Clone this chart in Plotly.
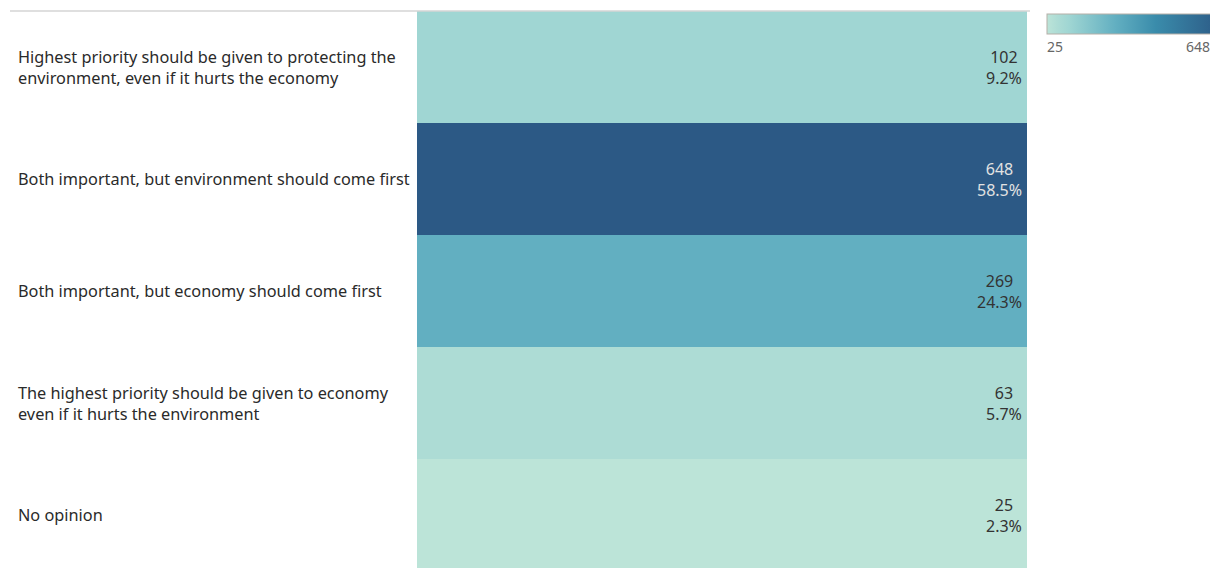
import plotly.graph_objects as go

# Survey responses: environment vs. economy priority
categories = [
    "Highest priority should be given to protecting the<br>environment, even if it hurts the economy",
    "Both important, but environment should come first",
    "Both important, but economy should come first",
    "The highest priority should be given to economy<br>even if it hurts the environment",
    "No opinion",
]
counts = [102, 648, 269, 63, 25]
percents = ["9.2%", "58.5%", "24.3%", "5.7%", "2.3%"]

W, H = 1210, 568
TOP = 11
ROW_PX = 112
cmin, cmax = min(counts), max(counts)

# Blue-teal sequential scale
colorscale = [
    [0.0, "#BCE4D8"],
    [0.061, "#ADDCD5"],
    [0.124, "#A0D6D3"],
    [0.392, "#62AFC1"],
    [0.62, "#3A8CAB"],
    [1.0, "#2C5985"],
]

rows = list(range(len(categories)))
FONT = "Noto Sans"

fig = go.Figure()
fig.add_trace(go.Heatmap(
    z=[[c] for c in counts],
    x=[0],
    y=rows,
    zmin=cmin, zmax=cmax,
    colorscale=colorscale,
    hoverinfo="skip",
    colorbar=dict(
        orientation="h",
        xref="container", yref="container",
        x=1047 / W, xanchor="left",
        y=1 - 14 / H, yanchor="top",
        lenmode="pixels", len=175,
        thickness=20,
        xpad=0, ypad=0,
        outlinecolor="#B5AFA8", outlinewidth=1,
        showticklabels=False, ticks="",
    ),
))

# Row labels on the left
for i, cat in enumerate(categories):
    fig.add_annotation(
        x=16 / W, xref="paper", xanchor="left",
        y=i, yref="y", yanchor="middle",
        text=cat, showarrow=False, align="left",
        font=dict(family=FONT, size=16.3, color="#2A2A2A"),
    )

# Value labels inside each cell
for i, (c, p) in enumerate(zip(counts, percents)):
    dark = (c - cmin) / (cmax - cmin) > 0.5
    fig.add_annotation(
        x=1024 / W, xref="paper", xanchor="right",
        y=i, yref="y", yanchor="middle",
        text=f"{c}<br>{p}", showarrow=False, align="center",
        font=dict(family=FONT, size=16,
                  color="#E2E2E2" if dark else "#333333"),
    )

# Legend end labels
fig.add_annotation(x=1045 / W, xref="paper", xanchor="left",
                   y=1 - (46 - TOP) / (H - TOP), yref="paper", yanchor="middle",
                   text="25", showarrow=False,
                   font=dict(family=FONT, size=14, color="#666666"))
fig.add_annotation(x=1212 / W, xref="paper", xanchor="right",
                   y=1 - (46 - TOP) / (H - TOP), yref="paper", yanchor="middle",
                   text="648", showarrow=False,
                   font=dict(family=FONT, size=14, color="#666666"))

# Top rule line
fig.add_shape(type="line", xref="paper", yref="paper",
              x0=10 / W, x1=1030 / W, y0=1, y1=1,
              line=dict(color="#D4D4D4", width=1.5))

# Rows keep a fixed pixel height; the last one runs past the bottom edge
visible_rows = (H - TOP) / ROW_PX

fig.update_layout(
    width=W, height=H,
    margin=dict(l=0, r=0, t=TOP, b=0, autoexpand=False),
    paper_bgcolor="white", plot_bgcolor="white",
    xaxis=dict(domain=[417 / W, 1027 / W], visible=False, range=[-0.5, 0.5]),
    yaxis=dict(visible=False, autorange=False, range=[-0.5 + visible_rows, -0.5]),
    showlegend=False,
)

fig.write_html("out.html")
